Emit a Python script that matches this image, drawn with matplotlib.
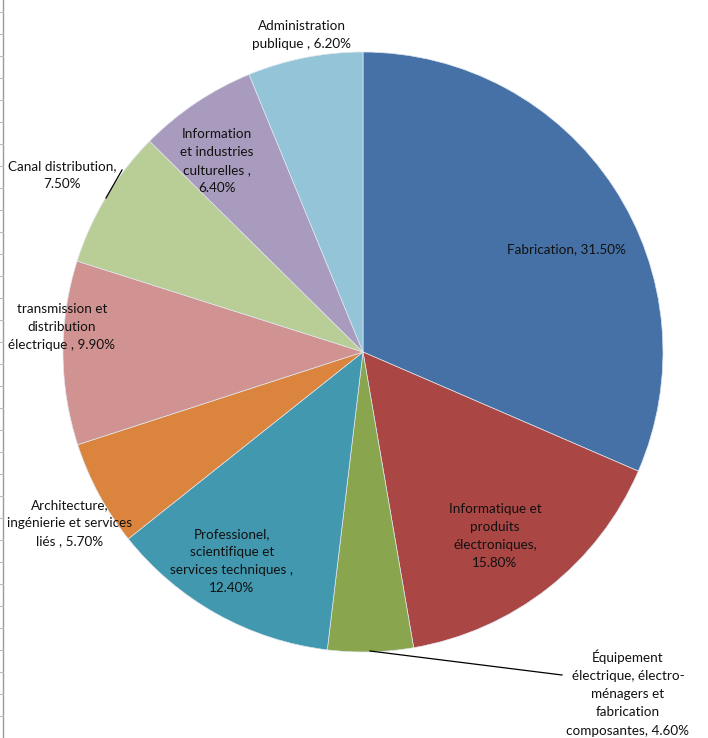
import matplotlib
matplotlib.use("Agg")
import matplotlib.pyplot as plt
import numpy as np

# ---- data ------------------------------------------------------------------
sectors = [
    "Fabrication",
    "Informatique et produits électroniques",
    "Équipement électrique, électro-ménagers et fabrication composantes",
    "Professionel, scientifique et services techniques",
    "Architecture, ingénierie et services liés",
    "transmission et distribution électrique",
    "Canal distribution",
    "Information et industries culturelles",
    "Administration publique",
]
shares = [31.5, 15.8, 4.6, 12.4, 5.7, 9.9, 7.5, 6.4, 6.2]

# label text as drawn in the chart (line breaks as in the original)
label_text = [
    "Fabrication, 31.50%",
    "Informatique et\nproduits\nélectroniques,\n15.80%",
    "Équipement\nélectrique, électro-\nménagers et\nfabrication\ncomposantes, 4.60%",
    "Professionel,\nscientifique et\nservices techniques ,\n12.40%",
    "Architecture,\ningénierie et services\nliés , 5.70%",
    "transmission et\ndistribution\nélectrique , 9.90%",
    "Canal distribution,\n7.50%",
    "Information\net industries\nculturelles ,\n6.40%",
    "Administration\npublique , 6.20%",
]

colors = ["#4571A7", "#AA4643", "#89A54E", "#4198AF", "#DB843D",
          "#D19392", "#B9CD96", "#A99BBD", "#93C4D7"]

W, H = 708, 738
plt.rcParams["font.family"] = ["Lato", "DejaVu Sans"]

fig = plt.figure(figsize=(W / 100, H / 100), dpi=100)
ax = fig.add_axes([0, 0, 1, 1])

cx, cy, r = 363, H - 352, 300
ax.pie(shares, colors=colors, startangle=90, counterclock=False,
       center=(cx, cy), radius=r, frame=True,
       wedgeprops=dict(edgecolor="#dfe6ee", linewidth=0.5))
ax.set_xlim(0, W)
ax.set_ylim(0, H)
ax.set_aspect("equal")
ax.axis("off")

# label positions in pixels (x, y from top)
label_pos = [(566, 249), (495, 536), (628, 693), (232, 561), (70, 523),
             (62, 327), (62, 175), (217, 161), (302, 35)]
for txt, (px, py) in zip(label_text, label_pos):
    ax.text(px, H - py, txt, ha="center", va="center", fontsize=9.7,
            color="#111111", linespacing=1.62)

# leader lines for the two outside labels
ax.plot([370, 562], [H - 651, H - 675], color="black", lw=0.9)
ax.plot([106, 122], [H - 198, H - 170], color="black", lw=0.9)

# spreadsheet edge on the left
ax.plot([2.5, 2.5], [0, H], color="#9a9a9a", lw=1)
for ty in np.arange(12, H, 22):
    ax.plot([0, 2.5], [H - ty, H - ty], color="#bbbbbb", lw=0.8)

fig.savefig("out.png", dpi=100)
